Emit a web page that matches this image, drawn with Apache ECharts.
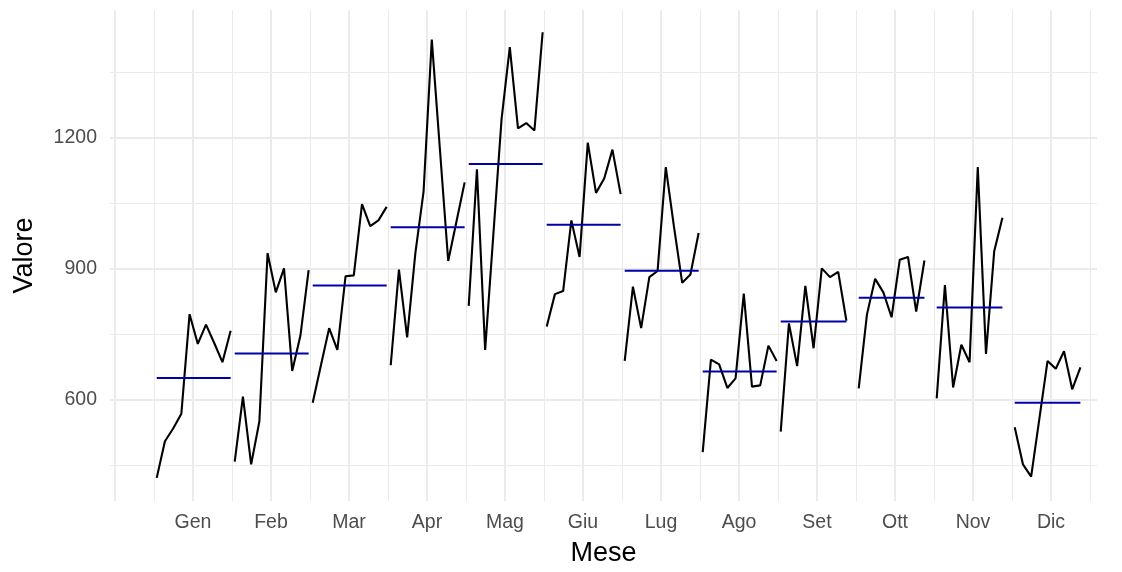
<!DOCTYPE html>
<html>
<head>
<meta charset="utf-8">
<script src="https://cdn.jsdelivr.net/npm/echarts@6/dist/echarts.min.js"></script>
<style>
  html, body { margin: 0; padding: 0; background: #ffffff; }
  #chart { width: 1122px; height: 572px; }
</style>
</head>
<body>
<div id="chart"></div>
<script>
// ---- data ----
const months = ['Gen', 'Feb', 'Mar', 'Apr', 'Mag', 'Giu', 'Lug', 'Ago', 'Set', 'Ott', 'Nov', 'Dic'];
const gen = [421, 505, 534, 568, 796, 728, 772, 730, 686, 758];
const feb = [458, 607, 452, 550, 936, 846, 901, 666, 747, 897];
const mar = [593, 679, 764, 714, 883, 885, 1048, 998, 1011, 1042];
const apr = [679, 898, 743, 936, 1077, 1425, 1171, 918, 1008, 1098];
const mag = [815, 1128, 714, 979, 1243, 1408, 1222, 1234, 1217, 1442];
const giu = [768, 842, 849, 1011, 927, 1189, 1074, 1107, 1173, 1071];
const lug = [689, 859, 764, 881, 895, 1133, 996, 868, 887, 982];
const ago = [480, 692, 681, 627, 649, 843, 630, 633, 724, 689];
const set = [527, 775, 677, 861, 718, 901, 881, 893, 781];
const ott = [626, 795, 877, 846, 789, 921, 927, 802, 919];
const nov = [603, 863, 628, 726, 686, 1133, 705, 940, 1017];
const dic = [537, 452, 424, 556, 689, 671, 711, 624, 674];
const yMajorTicks = [600, 900, 1200];
const yMinorTicks = [450, 750, 1050, 1350];

const subseries = [gen, feb, mar, apr, mag, giu, lug, ago, set, ott, nov, dic];

// subseries x-position within each month (year offset)
const yearOffsetStart = -0.465;
const yearOffsetStep = 0.1053;

const xMajor = [];
for (let i = 0; i <= 12; i++) xMajor.push(i);
const xMinor = [];
for (let i = 0; i <= 12; i++) xMinor.push(i + 0.5);
const xLabels = [];
for (let i = 1; i <= 12; i++) xLabels.push(i);

const series = [];
subseries.forEach((vals, m) => {
  const pts = vals.map((v, k) => [m + 1 + yearOffsetStart + k * yearOffsetStep, v]);
  series.push({
    type: 'line', xAxisIndex: 0, yAxisIndex: 0, data: pts, symbol: 'none',
    lineStyle: { color: '#000000', width: 2.1 }, silent: true, z: 3
  });
  const mean = vals.reduce((a, b) => a + b, 0) / vals.length;
  series.push({
    type: 'line', xAxisIndex: 0, yAxisIndex: 0,
    data: [[pts[0][0], mean], [pts[pts.length - 1][0], mean]], symbol: 'none',
    lineStyle: { color: '#0000AA', width: 2.1 }, silent: true, z: 4
  });
});

const FONT = 'Liberation Sans, Arial, Helvetica, sans-serif';
const chart = echarts.init(document.getElementById('chart'), null, { renderer: 'canvas' });
chart.setOption({
  animation: false,
  backgroundColor: '#ffffff',
  grid: { left: 110, right: 25, top: 10, bottom: 66 },
  xAxis: [
    {
      type: 'value', min: -0.064, max: 12.59, position: 'bottom',
      name: 'Mese', nameLocation: 'middle', nameGap: 39,
      nameTextStyle: { color: '#000000', fontSize: 27, fontFamily: FONT },
      axisLine: { show: false },
      axisTick: { show: false, customValues: xMajor },
      axisLabel: {
        customValues: xLabels, color: '#4D4D4D', fontSize: 19.5, fontFamily: FONT, margin: 12,
        formatter: v => months[Math.round(v) - 1] || ''
      },
      splitLine: { show: true, lineStyle: { color: '#EBEBEB', width: 2 } }
    },
    {
      type: 'value', min: -0.064, max: 12.59, position: 'bottom',
      axisLine: { show: false },
      axisTick: { show: false, customValues: xMinor },
      axisLabel: { show: false },
      splitLine: { show: true, lineStyle: { color: '#EBEBEB', width: 1 } }
    }
  ],
  yAxis: [
    {
      type: 'value', min: 368, max: 1493, position: 'left',
      name: 'Valore', nameLocation: 'middle', nameGap: 72,
      nameTextStyle: { color: '#000000', fontSize: 27, fontFamily: FONT },
      axisLine: { show: false },
      axisTick: { show: false, customValues: yMajorTicks },
      axisLabel: {
        customValues: yMajorTicks, color: '#4D4D4D', fontSize: 19.5, fontFamily: FONT, margin: 13,
        formatter: v => String(v)
      },
      splitLine: { show: true, lineStyle: { color: '#EBEBEB', width: 2 } }
    },
    {
      type: 'value', min: 368, max: 1493, position: 'left',
      axisLine: { show: false },
      axisTick: { show: false, customValues: yMinorTicks },
      axisLabel: { show: false },
      splitLine: { show: true, lineStyle: { color: '#EBEBEB', width: 1 } }
    }
  ],
  series: series
});
</script>
</body>
</html>
